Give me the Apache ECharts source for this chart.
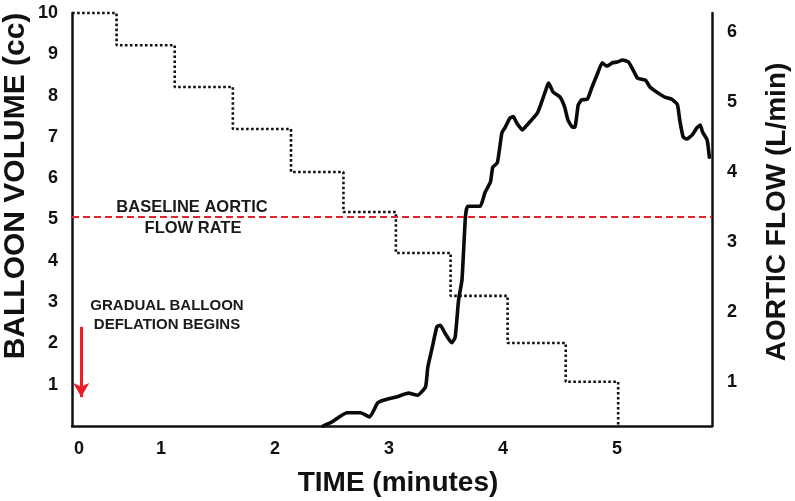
<!DOCTYPE html>
<html>
<head>
<meta charset="utf-8">
<script src="https://cdn.jsdelivr.net/npm/echarts@6/dist/echarts.min.js"></script>
<style>
  html, body { margin: 0; padding: 0; background: #fff; }
  #chart { width: 795px; height: 501px; }
</style>
</head>
<body>
<div id="chart"></div>
<script>
// ---- Data ----
// Balloon volume staircase (left axis, cc) vs time (minutes)
const stepTimes   = [0.22, 0.61, 1.12, 1.63, 2.14, 2.60, 3.06, 3.54, 4.04, 4.55, 5.01];
const stepVolumes = [10, 9.22, 8.21, 7.19, 6.15, 5.18, 4.19, 3.15, 2.01, 1.07, 0];

// Aortic flow (right axis, L/min) vs time (minutes)
const flowTimes = [2.42, 2.50, 2.63, 2.75, 2.83, 2.90, 2.95, 3.07, 3.17, 3.25, 3.32, 3.34, 3.38, 3.42, 3.45,
  3.49, 3.55, 3.58, 3.61, 3.64, 3.67, 3.69, 3.80, 3.84, 3.89, 3.91, 3.95, 3.99, 4.02, 4.06, 4.09, 4.12,
  4.17, 4.21, 4.30, 4.33, 4.39, 4.40, 4.44, 4.50, 4.54, 4.57, 4.61, 4.63, 4.66, 4.69, 4.74, 4.78, 4.83,
  4.87, 4.91, 4.96, 5.00, 5.05, 5.10, 5.14, 5.18, 5.25, 5.29, 5.35, 5.42, 5.48, 5.53, 5.55, 5.58, 5.61,
  5.66, 5.70, 5.73, 5.75, 5.79, 5.81];
const flowValues = [0.37, 0.43, 0.56, 0.56, 0.50, 0.70, 0.74, 0.79, 0.84, 0.81, 0.93, 1.21, 1.50, 1.79, 1.81,
  1.70, 1.56, 1.64, 2.17, 2.46, 3.36, 3.51, 3.51, 3.70, 3.86, 4.07, 4.13, 4.56, 4.64, 4.77, 4.79, 4.70,
  4.60, 4.67, 4.84, 4.96, 5.24, 5.27, 5.14, 5.07, 4.93, 4.74, 4.64, 4.64, 4.96, 5.03, 5.04, 5.21, 5.41,
  5.56, 5.51, 5.56, 5.57, 5.60, 5.57, 5.46, 5.34, 5.31, 5.21, 5.14, 5.07, 5.04, 4.96, 4.74, 4.50, 4.47,
  4.53, 4.63, 4.67, 4.57, 4.46, 4.21];

const baselineFlow = 3.36;   // L/min
const arrowTime = 0.30, arrowFrom = 2.4, arrowTo = 0.7; // "gradual balloon deflation begins" arrow (cc)

// Tick labels
const xTickValues = [0.28, 1, 2, 3, 4, 5];
const xTickLabels = ['0', '1', '2', '3', '4', '5'];
const leftTickValues = [1, 2, 3, 4, 5, 6, 7, 8, 9, 10];
const rightTickValues = [1, 2, 3, 4, 5, 6];

const FONT = '"Liberation Sans", Arial, sans-serif';

const stepData = stepTimes.map((t, i) => [t, stepVolumes[i]]);
const flowData = flowTimes.map((t, i) => [t, flowValues[i]]);

const chart = echarts.init(document.getElementById('chart'), null, { renderer: 'canvas' });

const axisLabelStyle = { color: '#111', fontSize: 18, fontWeight: 'bold', fontFamily: FONT };

chart.setOption({
  backgroundColor: '#ffffff',
  animation: false,
  grid: { left: 72, right: 83, top: 13, bottom: 75 },
  xAxis: {
    type: 'value', min: 0.219, max: 5.833,
    axisLine: { show: true, onZero: false, lineStyle: { color: '#111', width: 2.5 } },
    axisTick: { show: false },
    splitLine: { show: false },
    axisLabel: Object.assign({}, axisLabelStyle, {
      margin: 14,
      customValues: xTickValues,
      formatter: function (v) {
        const i = xTickValues.indexOf(v);
        return i >= 0 ? xTickLabels[i] : '';
      }
    })
  },
  yAxis: [
    {
      type: 'value', position: 'left', min: 0, max: 10,
      axisLine: { show: true, onZero: false, lineStyle: { color: '#111', width: 2.5 } },
      axisTick: { show: false },
      splitLine: { show: false },
      axisLabel: Object.assign({}, axisLabelStyle, { margin: 14, customValues: leftTickValues })
    },
    {
      type: 'value', position: 'right', min: 0.371, max: 6.271,
      axisLine: { show: true, onZero: false, lineStyle: { color: '#111', width: 2.5 } },
      axisTick: { show: false },
      splitLine: { show: false },
      axisLabel: Object.assign({}, axisLabelStyle, { margin: 15, customValues: rightTickValues })
    }
  ],
  series: [
    {
      name: 'Balloon volume',
      type: 'line',
      yAxisIndex: 0,
      data: stepData,
      step: 'end',
      symbol: 'none',
      clip: false,
      lineStyle: { color: '#111', width: 2.6, type: [2.6, 2.4] },
      markLine: {
        silent: true,
        symbol: ['none', 'arrow'],
        symbolSize: [12, 14],
        label: { show: false },
        lineStyle: { color: '#ee1c24', width: 3, type: 'solid' },
        data: [[{ coord: [arrowTime, arrowFrom] }, { coord: [arrowTime, arrowTo] }]]
      }
    },
    {
      name: 'Aortic flow',
      type: 'line',
      yAxisIndex: 1,
      data: flowData,
      symbol: 'none',
      smooth: 0.15,
      clip: false,
      lineStyle: { color: '#0a0a0a', width: 3.6, join: 'round', cap: 'round' },
      markLine: {
        silent: true,
        symbol: ['none', 'none'],
        label: { show: false },
        lineStyle: { color: '#e52229', width: 2, type: [7, 4] },
        data: [{ yAxis: baselineFlow }]
      }
    }
  ],
  graphic: [
    { type: 'text', x: 16, y: 186, rotation: Math.PI / 2,
      style: { text: 'BALLOON VOLUME (cc)', font: 'bold 30px ' + FONT, fill: '#111',
               textAlign: 'center', textVerticalAlign: 'middle' } },
    { type: 'text', x: 777, y: 212, rotation: Math.PI / 2,
      style: { text: 'AORTIC FLOW (L/min)', font: 'bold 28px ' + FONT, fill: '#111',
               textAlign: 'center', textVerticalAlign: 'middle' } },
    { type: 'text', x: 398, y: 483,
      style: { text: 'TIME (minutes)', font: 'bold 28px ' + FONT, fill: '#111',
               textAlign: 'center', textVerticalAlign: 'middle' } },
    { type: 'text', x: 192, y: 207,
      style: { text: 'BASELINE AORTIC', font: 'bold 16.5px ' + FONT, fill: '#1a1a1a',
               textAlign: 'center', textVerticalAlign: 'middle' } },
    { type: 'text', x: 193, y: 228,
      style: { text: 'FLOW RATE', font: 'bold 16.5px ' + FONT, fill: '#1a1a1a',
               textAlign: 'center', textVerticalAlign: 'middle' } },
    { type: 'text', x: 167, y: 306,
      style: { text: 'GRADUAL BALLOON', font: 'bold 15px ' + FONT, fill: '#1a1a1a',
               textAlign: 'center', textVerticalAlign: 'middle' } },
    { type: 'text', x: 167, y: 325,
      style: { text: 'DEFLATION BEGINS', font: 'bold 15px ' + FONT, fill: '#1a1a1a',
               textAlign: 'center', textVerticalAlign: 'middle' } }
  ]
});
</script>
</body>
</html>
